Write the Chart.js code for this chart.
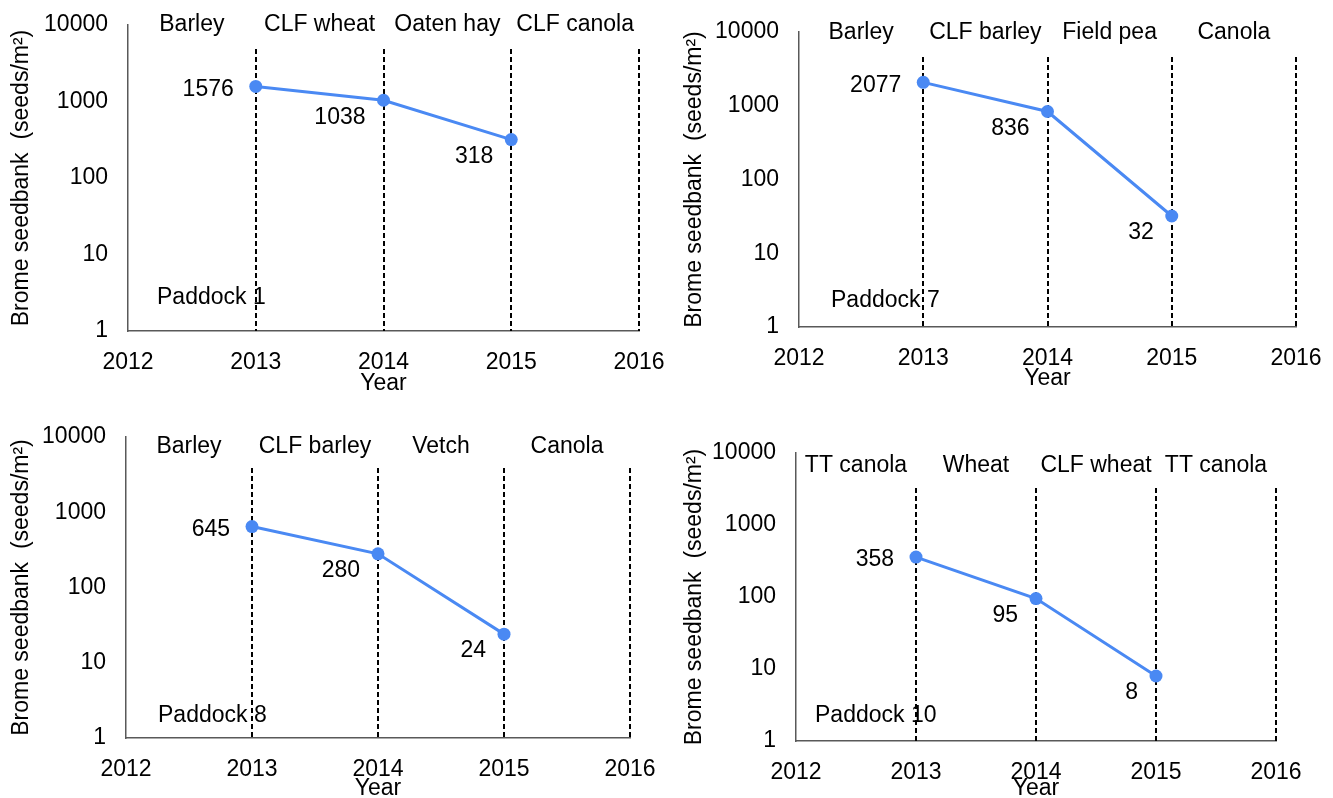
<!DOCTYPE html>
<html>
<head>
<meta charset="utf-8">
<title>Brome seedbank by paddock</title>
<script src="https://cdn.jsdelivr.net/npm/chart.js@4.4.1/dist/chart.umd.min.js"></script>
<style>
  html, body { margin: 0; padding: 0; background: #fff; }
  body { width: 1333px; height: 798px; position: relative; overflow: hidden; }
  canvas { position: absolute; }
</style>
</head>
<body>
<canvas id="p1" width="666" height="399" style="left:0;top:0"></canvas>
<canvas id="p7" width="660" height="399" style="left:673px;top:0"></canvas>
<canvas id="p8" width="666" height="398" style="left:0;top:400px"></canvas>
<canvas id="p10" width="660" height="398" style="left:673px;top:400px"></canvas>
<script>
// ===================== DATOS =====================
const years      = [2013, 2014, 2015];
const paddock1   = [1576, 1038, 318];
const paddock7   = [2077, 836, 32];
const paddock8   = [645, 280, 24];
const paddock10  = [358, 95, 8];

const crops1  = ["Barley", "CLF wheat", "Oaten hay", "CLF canola"];
const crops7  = ["Barley", "CLF barley", "Field pea", "Canola"];
const crops8  = ["Barley", "CLF barley", "Vetch", "Canola"];
const crops10 = ["TT canola", "Wheat", "CLF wheat", "TT canola"];

const yearTicks    = [2012, 2013, 2014, 2015, 2016];
const seedTicks    = [1, 10, 100, 1000, 10000];
const dividerYears = [2013, 2014, 2015, 2016];

// ===================== ESTILO =====================
const FONT = "'Liberation Sans', Arial, sans-serif";
const lineColor = "#4a89f3";
const axisColor = "#595959";

Chart.defaults.font.family = FONT;
Chart.defaults.font.size = 23;
Chart.defaults.color = "#000";

// area = chart area inside each canvas (px)
const panels = [
  { id: "p1",  name: "Paddock 1",  values: paddock1,  crops: crops1,
    area: { left: 128, top: 25, right: 639, bottom: 331 }, dashFrom: 24, cropDrop: 0,  nameDx: 29, nameDy: 33, yearPad: 2 },
  { id: "p7",  name: "Paddock 7",  values: paddock7,  crops: crops7,
    area: { left: 126, top: 32, right: 623, bottom: 327 }, dashFrom: 25, cropDrop: 1,  nameDx: 32, nameDy: 26, yearPad: 7 },
  { id: "p8",  name: "Paddock 8",  values: paddock8,  crops: crops8,
    area: { left: 126, top: 37, right: 630, bottom: 338 }, dashFrom: 31, cropDrop: 10, nameDx: 32, nameDy: 22, yearPad: -4 },
  { id: "p10", name: "Paddock 10", values: paddock10, crops: crops10,
    area: { left: 123, top: 53, right: 603, bottom: 341 }, dashFrom: 35, cropDrop: 13, nameDx: 19, nameDy: 25, yearPad: -4 },
];

// ===================== PLUGIN DECORACIÓN =====================
const decorPlugin = {
  id: "decor",
  beforeDatasetsDraw(chart, args, opts) {
    const { ctx, chartArea, scales: { x } } = chart;
    ctx.save();

    // lineas divisorias punteadas
    ctx.strokeStyle = "#000";
    ctx.lineWidth = 2;
    ctx.setLineDash([5, 3]);
    dividerYears.forEach(yr => {
      const px = Math.round(x.getPixelForValue(yr));
      ctx.beginPath();
      ctx.moveTo(px, chartArea.top + opts.dashFrom);
      ctx.lineTo(px, chartArea.bottom);
      ctx.stroke();
    });
    ctx.setLineDash([]);

    // cultivos de cada año
    ctx.fillStyle = "#000";
    ctx.font = `23px ${FONT}`;
    ctx.textAlign = "center";
    ctx.textBaseline = "middle";
    opts.crops.forEach((c, i) => {
      const px = (x.getPixelForValue(yearTicks[i]) + x.getPixelForValue(yearTicks[i + 1])) / 2;
      ctx.fillText(c, px, chartArea.top + opts.cropDrop);
    });

    // nombre del potrero
    ctx.textAlign = "left";
    ctx.fillText(opts.name, chartArea.left + opts.nameDx, chartArea.bottom - opts.nameDy);
    ctx.restore();
  },
  afterDatasetsDraw(chart, args, opts) {
    const { ctx } = chart;
    const meta = chart.getDatasetMeta(0);
    const values = chart.data.datasets[0].data;
    ctx.save();
    ctx.fillStyle = "#000";
    ctx.font = `23px ${FONT}`;
    ctx.textAlign = "right";
    ctx.textBaseline = "middle";
    meta.data.forEach((pt, i) => {
      const dx = i === 0 ? -22 : -18;
      const dy = i === 0 ? 3 : 17;
      ctx.fillText(String(values[i].y), pt.x + dx, pt.y + dy);
    });
    ctx.restore();
  },
};

// ===================== GRÁFICOS =====================
function renderPanel(p) {
  const canvas = document.getElementById(p.id);
  const w = canvas.width, h = canvas.height;

  new Chart(canvas.getContext("2d"), {
    type: "line",
    data: {
      datasets: [{
        data: years.map((yr, i) => ({ x: yr, y: p.values[i] })),
        borderColor: lineColor,
        backgroundColor: lineColor,
        borderWidth: 3,
        pointRadius: 6.5,
        pointBorderWidth: 0,
        pointBackgroundColor: lineColor,
        tension: 0,
      }],
    },
    options: {
      responsive: false,
      animation: false,
      events: [],
      layout: {
        autoPadding: false,
        padding: { left: 0, top: p.area.top, right: w - p.area.right, bottom: 0 },
      },
      scales: {
        x: {
          type: "linear", min: 2012, max: 2016,
          afterBuildTicks: s => { s.ticks = yearTicks.map(v => ({ value: v })); },
          afterFit: s => {
            s.height = h - p.area.bottom;
            s.paddingLeft = 0; s.paddingRight = 0;
          },
          grid: { display: false, drawTicks: false },
          border: { display: true, color: axisColor, width: 1.5 },
          ticks: { padding: 18, autoSkip: false, maxRotation: 0, callback: v => String(v) },
          title: { display: true, text: "Year", padding: { top: 0, bottom: p.yearPad } },
        },
        y: {
          type: "logarithmic", min: 1, max: 10000,
          afterBuildTicks: s => { s.ticks = seedTicks.map(v => ({ value: v })); },
          afterFit: s => {
            s.width = p.area.left;
            s.paddingTop = 0; s.paddingBottom = 0;
          },
          grid: { display: false, drawTicks: false },
          border: { display: true, color: axisColor, width: 1.5 },
          ticks: { padding: 20, autoSkip: false, callback: v => String(v) },
          title: { display: true, text: "Brome seedbank  (seeds/m²)", padding: { top: 8, bottom: 0 } },
        },
      },
      plugins: {
        legend: { display: false },
        tooltip: { enabled: false },
        decor: { crops: p.crops, name: p.name, dashFrom: p.dashFrom, cropDrop: p.cropDrop, nameDx: p.nameDx, nameDy: p.nameDy },
      },
    },
    plugins: [decorPlugin],
  });
}

panels.forEach(renderPanel);
</script>
</body>
</html>
